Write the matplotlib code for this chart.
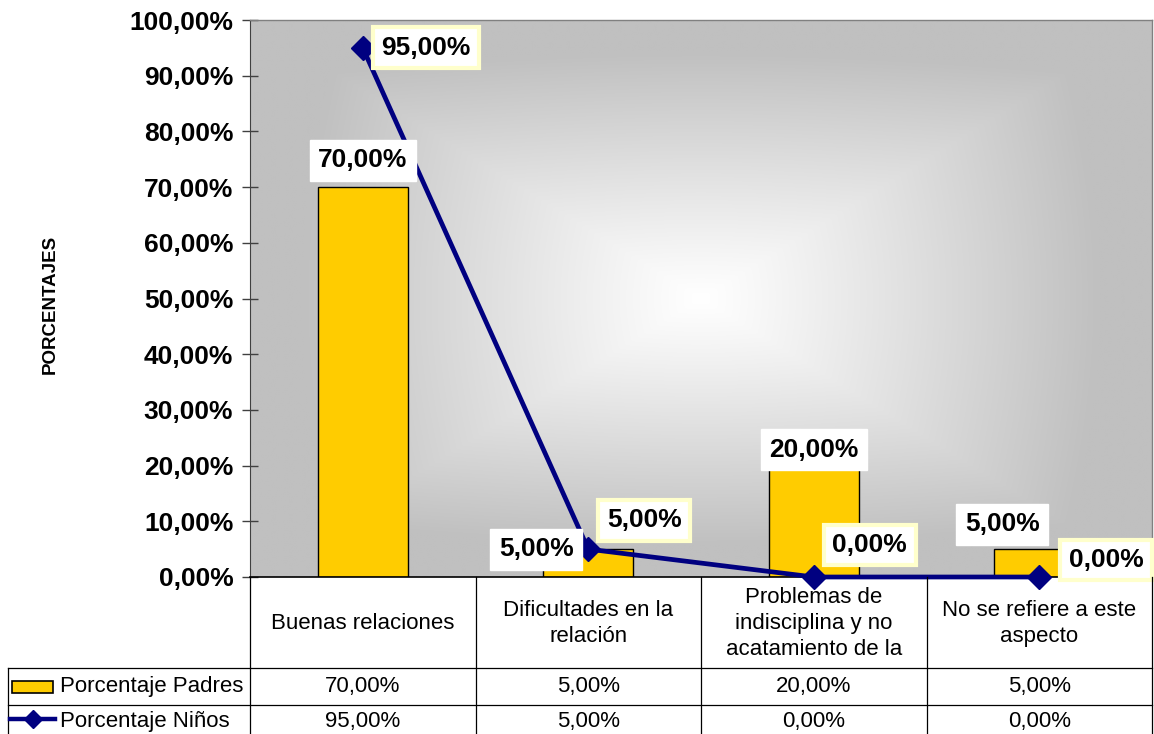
import numpy as np
import matplotlib
matplotlib.use("Agg")
import matplotlib.pyplot as plt
from matplotlib.transforms import blended_transform_factory
from matplotlib.patches import Rectangle
from matplotlib.lines import Line2D

plt.rcParams['font.family'] = ['Liberation Sans', 'DejaVu Sans']

# ---- data ----
categories = [
    "Buenas relaciones",
    "Dificultades en la\nrelación",
    "Problemas de\nindisciplina y no\nacatamiento de la",
    "No se refiere a este\naspecto",
]
series_names = ["Porcentaje Padres", "Porcentaje Niños"]
padres = [70.0, 5.0, 20.0, 5.0]
ninos = [95.0, 5.0, 0.0, 0.0]
y_ticks = [0, 10, 20, 30, 40, 50, 60, 70, 80, 90, 100]


def pct(v):
    return f"{v:.2f}%".replace(".", ",")


W, H = 1154, 734
fig = plt.figure(figsize=(W / 100, H / 100), dpi=100)
fig.patch.set_facecolor("white")

L, R, T, B = 250, 1152, 20, 577
ax = fig.add_axes([L / W, (H - B) / H, (R - L) / W, (B - T) / H])
ax.set_xlim(-0.5, len(categories) - 0.5)
ax.set_ylim(0, 100)

# rectangular "from centre" gradient fill of the plot area
ny, nx = 300, 480
yy, xx = np.mgrid[-1:1:ny * 1j, -1:1:nx * 1j]
d = np.maximum(np.abs(xx), np.abs(yy))
d = 0.75 * d + 0.25 * np.sqrt(xx ** 2 + yy ** 2) / np.sqrt(2)
level = 255 - 63 * np.clip(d / 0.82, 0, 1) ** 1.1
img = np.dstack([level, level, level]) / 255.0
ax.imshow(img, extent=[-0.5, len(categories) - 0.5, 0, 100],
          aspect="auto", zorder=0, interpolation="bilinear")

x = np.arange(len(categories))
bars = ax.bar(x, padres, width=0.4, color="#FFCC00", edgecolor="black",
              linewidth=1.0, zorder=2)
ax.plot(x, ninos, color="#000080", linewidth=3.4, marker="D",
        markersize=12.5, zorder=4, clip_on=False)

# axes styling
ax.set_yticks(y_ticks)
ax.set_yticklabels([pct(v) for v in y_ticks], fontsize=19, fontweight="bold")
ax.set_xticks([])
ax.tick_params(axis="y", direction="inout", length=12, width=1,
               color="#404040", pad=6)
for side in ("top", "right"):
    ax.spines[side].set_color("#808080")
    ax.spines[side].set_linewidth(1)
ax.spines["left"].set_color("#404040")
ax.spines["bottom"].set_color("black")
ax.spines["bottom"].set_linewidth(1.2)

fig.text(50 / W, 1 - 304 / H, "PORCENTAJES", rotation=90, fontsize=13.5,
         fontweight="bold", ha="center", va="center")

# data labels
bar_box = dict(boxstyle="square,pad=0.32", facecolor="white", edgecolor="white")
line_box = dict(boxstyle="square,pad=0.32", facecolor="white",
                edgecolor="#FFFFCC", linewidth=3)
bar_offsets = [(0, 27), (-52, 0), (0, 16), (-37, 25)]
line_offsets = [(63, 0), (56, 29), (56, 32), (67, 17)]
for i in range(len(categories)):
    ax.annotate(pct(padres[i]), (x[i], padres[i]), xytext=bar_offsets[i],
                textcoords="offset pixels", ha="center", va="center",
                fontsize=19, fontweight="bold", bbox=bar_box, zorder=5)
    ax.annotate(pct(ninos[i]), (x[i], ninos[i]), xytext=line_offsets[i],
                textcoords="offset pixels", ha="center", va="center",
                fontsize=19, fontweight="bold", bbox=line_box, zorder=5,
                annotation_clip=False)

# data table below the plot
tab = fig.add_axes([0, 0, 1, 1], zorder=3)
tab.set_xlim(0, W)
tab.set_ylim(H, 0)
tab.axis("off")
trans = blended_transform_factory(ax.transData, tab.transData)

row_top, row1, row2, row_end = B, 668, 705, 734
for k in range(len(categories) + 1):
    tab.add_line(Line2D([k - 0.5, k - 0.5], [row_top, row_end], color="black",
                        linewidth=0.9, transform=trans))
for yline in (row1, row2):
    tab.add_line(Line2D([8, R], [yline, yline], color="black", linewidth=0.9))
tab.add_line(Line2D([8, 8], [row1, row_end], color="black", linewidth=0.9))

for i, name in enumerate(categories):
    tab.text(x[i], (row_top + row1) / 2 + 1, name, transform=trans,
             ha="center", va="center", fontsize=16, linespacing=1.3)
    tab.text(x[i], (row1 + row2) / 2, pct(padres[i]), transform=trans,
             ha="center", va="center", fontsize=16)
    tab.text(x[i], (row2 + row_end) / 2 + 2, pct(ninos[i]), transform=trans,
             ha="center", va="center", fontsize=16)

# legend keys in the first column
tab.add_patch(Rectangle((12, 681), 41, 12, facecolor="#FFCC00",
                        edgecolor="black", linewidth=1.2))
tab.add_line(Line2D([10, 55], [719, 719], color="#000080", linewidth=3.2))
tab.add_line(Line2D([33], [719], color="#000080", marker="D", markersize=9,
                    linestyle="none"))
tab.text(60, (row1 + row2) / 2, series_names[0], ha="left", va="center",
         fontsize=16)
tab.text(60, (row2 + row_end) / 2 + 2, series_names[1], ha="left",
         va="center", fontsize=16)

fig.savefig("out.png", dpi=100)
